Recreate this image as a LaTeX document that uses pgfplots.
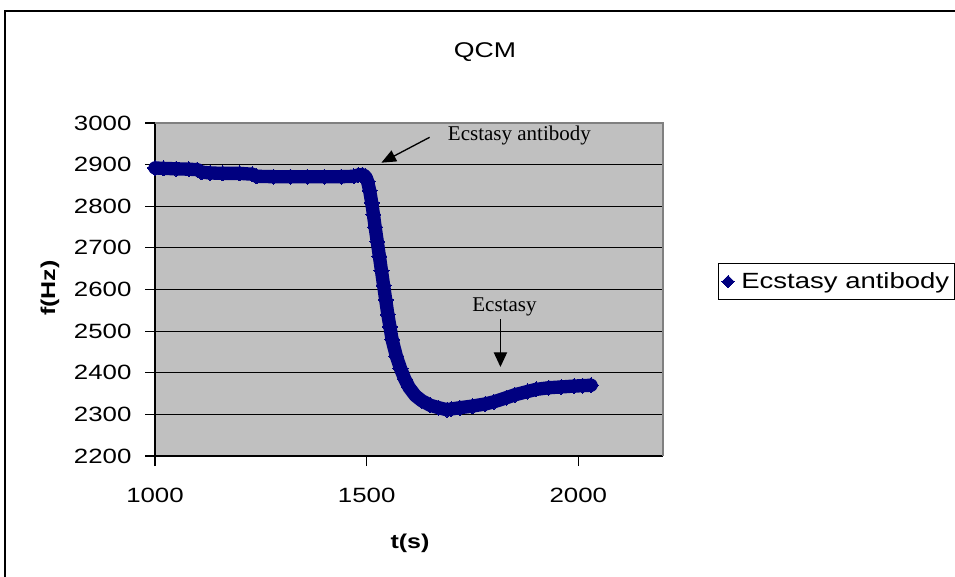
\documentclass[border=0pt]{standalone}
\usepackage{fontspec}
\setmainfont{Liberation Sans}[FakeStretch=1.25]
\newfontfamily\annfont{Liberation Serif}
\usepackage{pgfplots}
\pgfplotsset{compat=1.18}
\usetikzlibrary{arrows.meta}
\definecolor{navy}{HTML}{000080}
\definecolor{plotgray}{HTML}{C0C0C0}
\definecolor{bordergray}{HTML}{808080}

\begin{document}
\begin{tikzpicture}
\path[use as bounding box] (0pt,0pt) rectangle (716.25pt,432pt);
\draw[line width=1.5pt] (3.75pt,-5pt) -- (3.75pt,423.75pt) -- (730pt,423.75pt);
\begin{axis}[
  at={(116.25pt,90pt)}, anchor=south west,
  scale only axis, width=381pt, height=249.75pt,
  xmin=1000, xmax=2200, ymin=2200, ymax=3000,
  xtick={1000,1500,2000}, ytick={2200,2300,...,3000},
  axis x line*=bottom, axis y line*=left,
  axis line style={-, black, line width=1pt},
  axis background/.style={fill=plotgray},
  ymajorgrids, grid style={black, line width=0.9pt},
  tick align=outside, major tick length=7.5pt,
  tick style={black, line width=0.9pt},
  tick label style={font=\fontsize{15.5}{18}\selectfont},
  /pgf/number format/assume math mode=true,
  /pgf/number format/1000 sep={},
  scaled ticks=false,
  yticklabel style={anchor=east, inner sep=0pt, xshift=-10pt},
  xticklabel style={anchor=north, inner sep=0pt, yshift=-16pt},
  clip=false,
  legend style={at={(1.1083,0.524)}, anchor=west, draw=black, line width=1pt, fill=white,
    font=\fontsize{16.5}{18}\selectfont, inner xsep=2pt, inner ysep=5pt,
    /tikz/every odd column/.append style={column sep=3pt}},
  legend cell align=left,
  legend image code/.code={\fill[navy] plot[mark=square*, mark size=3.2pt, mark options={rotate=45, line width=0pt}] coordinates {(0.35cm,0cm)};},
]
\addplot[navy, line width=10pt, line join=round, line cap=round,
  mark=square*, mark size=4pt, mark options={rotate=45, line width=0pt, fill=navy}]
coordinates {
(1000,2892) (1020,2891) (1050,2890) (1080,2889) (1100,2888) (1110,2882)
(1130,2880) (1160,2879) (1200,2879) (1230,2877) (1240,2872) (1280,2871)
(1320,2871) (1360,2871) (1400,2871) (1440,2871) (1470,2872) (1480,2875)
(1490,2876) (1497,2872) (1502,2860) (1507,2838) (1512,2808) (1516,2780)
(1520,2750) (1525,2715) (1530,2680) (1535,2645) (1540,2610) (1545,2575)
(1550,2540) (1555,2510) (1560,2480) (1570,2440) (1580,2410) (1590,2385)
(1600,2365) (1615,2345) (1630,2333) (1650,2322) (1670,2316) (1690,2311)
(1700,2313) (1720,2316) (1750,2320) (1780,2325) (1800,2330) (1830,2340)
(1850,2347) (1880,2355) (1900,2360) (1930,2364) (1960,2366) (1990,2368)
(2010,2369) (2030,2370)
};
\addlegendentry{Ecstasy antibody}
\draw[bordergray, line width=1.2pt] (rel axis cs:0,1) -- (rel axis cs:1,1) -- (rel axis cs:1,0);
\node[font=\annfont\fontsize{15.75}{18}\selectfont, anchor=base] at (axis cs:1860.8,2957.5) {Ecstasy antibody};
\draw[line width=1pt, -{Triangle[length=11pt,width=9pt]}] (axis cs:1648.6,2965.6) -- (axis cs:1534.7,2904.6);
\node[font=\annfont\fontsize{15.75}{18}\selectfont, anchor=base] at (axis cs:1825.5,2546) {Ecstasy};
\draw[line width=1pt, -{Triangle[length=11pt,width=10pt]}] (axis cs:1816,2529) -- (axis cs:1816,2414);
\end{axis}
\node[font=\fontsize{16}{18}\selectfont, anchor=base] at (363.75pt,389pt) {QCM};
\node[font=\bfseries\fontsize{15}{18}\selectfont] at (307.5pt,24.75pt) {t(s)};
\node[font=\bfseries\fontsize{15}{18}\selectfont, rotate=90] at (37.5pt,216pt) {f(Hz)};
\end{tikzpicture}
\end{document}
